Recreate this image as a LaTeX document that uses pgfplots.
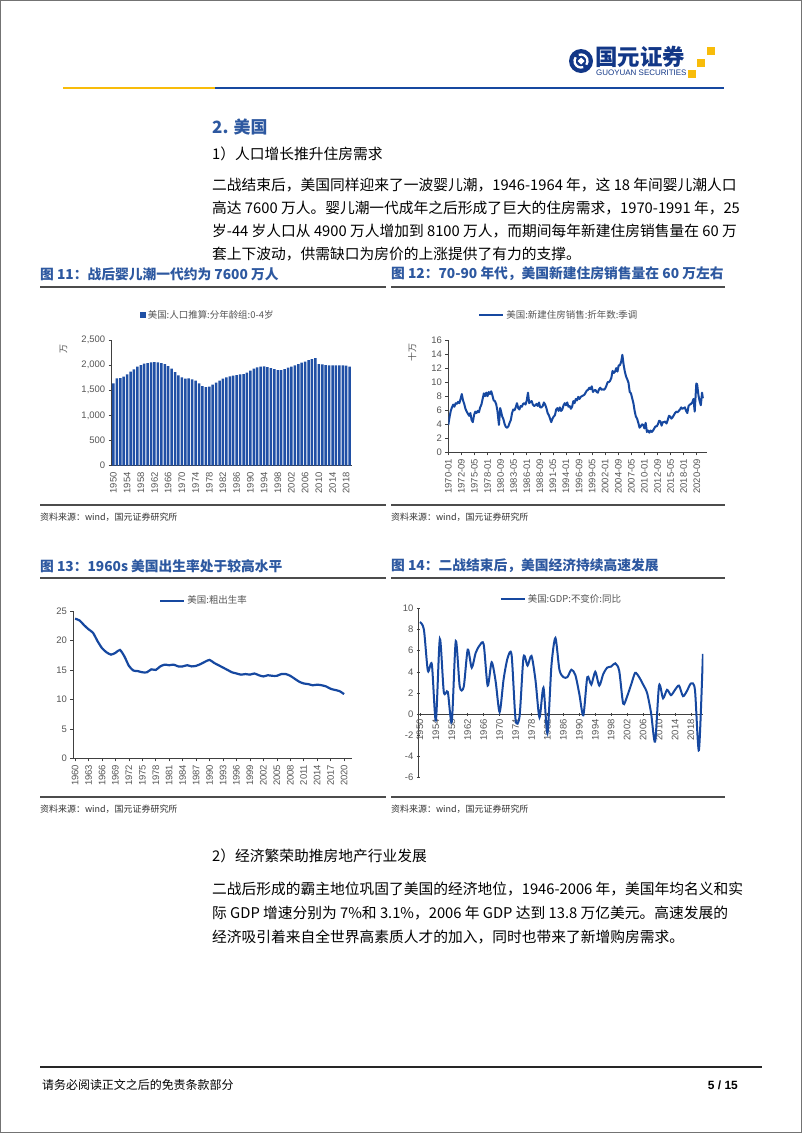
\documentclass[border=0pt]{standalone}
\usepackage{fontspec}
\setmainfont{Liberation Sans}
\newfontfamily\cjk{Noto Sans CJK SC}
\usepackage{pgfplots}
\pgfplotsset{compat=1.18}
\definecolor{gyblue}{RGB}{22,72,160}
\definecolor{titleblue}{RGB}{45,88,160}
\definecolor{logoblue}{RGB}{18,55,135}
\definecolor{gyyellow}{RGB}{248,188,10}
\definecolor{tickgray}{RGB}{85,85,85}
\definecolor{barblue}{RGB}{32,80,165}
\pgfplotsset{
  base/.style={scale only axis, axis x line*=bottom, axis y line*=left,
    tick label style={font=\fontsize{9.5}{11}\selectfont, text=tickgray},
    /pgf/number format/assume math mode=true,
    tick align=outside, major tick length=3bp,
    tick style={black!75, line width=0.6bp},
    axis line style={black!75, line width=0.8bp},
    xticklabel style={rotate=90, anchor=east},
    legend style={draw=none, fill=none, font=\cjk\fontsize{9.5}{11}\selectfont, text=tickgray, inner sep=1bp},
    legend cell align=left,
  }
}
\begin{document}
\begin{tikzpicture}
\begin{scope}[x=1bp,y=-1bp]
\useasboundingbox (0,0) rectangle (802,1133);
\fill[white] (0,0) rectangle (802,1133);
\draw[black!55, line width=1.2] (0.6,0.6) rectangle (801.4,1132.4);
% header
\fill[logoblue] (581,61) circle (12);
\draw[white, line width=2.3] (581,61) ++(70:6.5) arc (70:215:6.5);
\draw[white, line width=2.3] (581,61) ++(250:6.5) arc (250:395:6.5);
\fill[white] (581,57.5) -- (584.5,61) -- (581,64.5) -- (577.5,61) -- cycle;
\node[anchor=west, inner sep=0, text=logoblue] at (595,56.5) {\cjk\bfseries\fontsize{22.5}{24}\selectfont 国元证券};
\node[anchor=west, inner sep=0, text=logoblue] at (596,72.5) {\fontsize{8}{8}\selectfont GUOYUAN SECURITIES};
\fill[gyyellow] (707,47) rectangle (715,55);
\fill[gyyellow] (697,59) rectangle (705,67);
\fill[gyyellow] (688,70) rectangle (696,78);
\draw[gyyellow, line width=3] (63,88) -- (215,88);
\draw[gyblue, line width=3] (215,88) -- (724,88);
% section text
\node[anchor=west, inner sep=0, text=titleblue] at (212,127) {\cjk\bfseries\fontsize{17}{19}\selectfont 2. 美国};
\node[anchor=west, inner sep=0] at (212,154) {\cjk\fontsize{14.8}{16}\selectfont 1）人口增长推升住房需求};
\begin{scope}[every node/.style={anchor=west, inner sep=0, font=\cjk\fontsize{14.8}{16}\selectfont}]
\node at (212,185) {二战结束后，美国同样迎来了一波婴儿潮，1946-1964 年，这 18 年间婴儿潮人口};
\node at (212,208) {高达 7600 万人。婴儿潮一代成年之后形成了巨大的住房需求，1970-1991 年，25};
\node at (212,231) {岁-44 岁人口从 4900 万人增加到 8100 万人，而期间每年新建住房销售量在 60 万};
\node at (212,254) {套上下波动，供需缺口为房价的上涨提供了有力的支撑。};
\node at (212,889) {二战后形成的霸主地位巩固了美国的经济地位，1946-2006 年，美国年均名义和实};
\node at (212,913) {际 GDP 增速分别为 7\%和 3.1\%，2006 年 GDP 达到 13.8 万亿美元。高速发展的};
\node at (212,937) {经济吸引着来自全世界高素质人才的加入，同时也带来了新增购房需求。};
\end{scope}
\node[anchor=west, inner sep=0] at (212,856) {\cjk\fontsize{14.8}{16}\selectfont 2）经济繁荣助推房地产行业发展};
% figure titles
\begin{scope}[every node/.style={anchor=west, inner sep=0, text=titleblue, font=\cjk\bfseries\fontsize{13.8}{15}\selectfont}]
\node at (40,274) {图 11：战后婴儿潮一代约为 7600 万人};
\node at (391,274) {图 12：70-90 年代，美国新建住房销售量在 60 万左右};
\node at (40,566) {图 13：1960s 美国出生率处于较高水平};
\node at (391,566) {图 14：二战结束后，美国经济持续高速发展};
\end{scope}
\draw[black!70, line width=1.2] (40,287) -- (386,287);
\draw[black!70, line width=1.2] (391,287) -- (725,287);
\draw[black!70, line width=1.6] (40,505) -- (386,505);
\draw[black!70, line width=1.6] (391,505) -- (725,505);
\draw[black!70, line width=1.2] (40,578) -- (386,578);
\draw[black!70, line width=1.2] (391,578) -- (725,578);
\draw[black!70, line width=1.6] (40,797) -- (386,797);
\draw[black!70, line width=1.6] (391,797) -- (725,797);
\begin{scope}[every node/.style={anchor=west, inner sep=0, text=black!80, font=\cjk\fontsize{9}{10}\selectfont}]
\node at (40,517) {资料来源：wind，国元证券研究所};
\node at (391,517) {资料来源：wind，国元证券研究所};
\node at (40,809) {资料来源：wind，国元证券研究所};
\node at (391,809) {资料来源：wind，国元证券研究所};
\end{scope}
% footer
\draw[black!85, line width=1.8] (40,1067) -- (762,1067);
\node[anchor=west, inner sep=0] at (42,1085) {\cjk\fontsize{12}{14}\selectfont 请务必阅读正文之后的免责条款部分};
\node[anchor=east, inner sep=0] at (738,1085) {\bfseries\fontsize{12}{14}\selectfont 5 / 15};
\end{scope}

% ---------- Chart 11 ----------
\begin{axis}[base, at={(111.7bp,-465.7bp)}, anchor=south west,
  width=240bp, height=125.7bp,
  xmin=1949.5, xmax=2019.6, ymin=0, ymax=2500,
  ytick={0,500,...,2500},
  yticklabel style={/pgf/number format/1000 sep={,}},
  xtick={1950,1954,...,2018}, xticklabel style={/pgf/number format/1000 sep={}},
  x tick style={draw=none},
  ylabel={\cjk 万}, ylabel style={at={(axis description cs:-0.17,0.93)}, font=\fontsize{9}{10}\selectfont, text=tickgray},
  legend style={at={(0.40,1.20)}, anchor=center},
  legend image code/.code={\fill[barblue] (0bp,-3bp) rectangle (6bp,3bp);},
]
\addplot[ybar, bar width=2.5bp, bar shift=0pt, fill=barblue, draw=none] coordinates {
(1950,1638)(1951,1737)(1952,1740)(1953,1770)(1954,1817)(1955,1870)(1956,1916)(1957,1970)(1958,2003)(1959,2029)
(1960,2042)(1961,2056)(1962,2062)(1963,2056)(1964,2042)(1965,2022)(1966,1983)(1967,1930)(1968,1863)(1969,1797)
(1970,1757)(1971,1731)(1972,1737)(1973,1717)(1974,1691)(1975,1638)(1976,1585)(1977,1565)(1978,1572)(1979,1611)
(1980,1651)(1981,1691)(1982,1731)(1983,1757)(1984,1777)(1985,1790)(1986,1804)(1987,1817)(1988,1824)(1989,1850)
(1990,1890)(1991,1930)(1992,1956)(1993,1970)(1994,1976)(1995,1963)(1996,1943)(1997,1923)(1998,1903)(1999,1903)
(2000,1923)(2001,1950)(2002,1970)(2003,1996)(2004,2022)(2005,2049)(2006,2069)(2007,2102)(2008,2122)(2009,2142)
(2010,2022)(2011,2016)(2012,2003)(2013,1996)(2014,1996)(2015,1996)(2016,1996)(2017,1996)(2018,1990)(2019,1970)};
\addlegendentry{美国:人口推算:分年龄组:0-4岁}
\end{axis}

% ---------- Chart 12 ----------
\begin{axis}[base, at={(448.3bp,-452.3bp)}, anchor=south west,
  width=258.4bp, height=112.3bp,
  xmin=1970, xmax=2022.7, ymin=0, ymax=16, ytick={0,2,...,16},
  xtick={1970,1972.667,1975.333,1978,1980.667,1983.333,1986,1988.667,1991.333,1994,1996.667,1999.333,2002,2004.667,2007.333,2010,2012.667,2015.333,2018,2020.667},
  xticklabels={1970-01,1972-09,1975-05,1978-01,1980-09,1983-05,1986-01,1988-09,1991-05,1994-01,1996-09,1999-05,2002-01,2004-09,2007-05,2010-01,2012-09,2015-05,2018-01,2020-09},
  ylabel={\cjk 十万}, ylabel style={at={(axis description cs:-0.11,0.89)}, font=\fontsize{9}{10}\selectfont, text=tickgray},
  legend style={at={(0.428,1.223)}, anchor=center},
  legend image code/.code={\draw[gyblue, line width=2bp] (0bp,0bp) -- (24bp,0bp);},
]
\addplot[gyblue, line width=2bp, line join=round] coordinates {
(1970.00,3.9)(1970.25,5.0)(1970.50,5.9)(1970.75,6.4)
(1971.00,6.8)(1971.25,6.5)(1971.50,7.0)(1971.75,6.9)
(1972.00,7.2)(1972.25,7.0)(1972.50,7.6)(1972.75,8.3)
(1973.00,7.4)(1973.25,6.9)(1973.50,6.2)(1973.75,5.8)
(1974.00,5.5)(1974.25,5.2)(1974.50,5.6)(1974.75,4.6)
(1975.00,4.3)(1975.25,5.3)(1975.50,5.8)(1975.75,5.6)
(1976.00,5.9)(1976.25,5.7)(1976.50,6.4)(1976.75,6.8)
(1977.00,7.6)(1977.25,8.4)(1977.50,8.0)(1977.75,8.5)
(1978.00,8.0)(1978.25,8.6)(1978.50,8.3)(1978.75,8.7)
(1979.00,8.1)(1979.25,7.4)(1979.50,7.3)(1979.75,6.9)
(1980.00,6.0)(1980.33,3.9)(1980.58,6.3)(1980.83,5.6)
(1981.00,5.1)(1981.25,4.7)(1981.50,4.0)(1981.75,3.6)
(1982.00,3.5)(1982.25,3.7)(1982.50,4.2)(1982.75,4.6)
(1983.00,5.6)(1983.25,6.1)(1983.50,6.0)(1983.75,6.4)
(1984.00,7.0)(1984.25,6.3)(1984.50,6.1)(1984.75,6.6)
(1985.00,6.5)(1985.25,6.9)(1985.50,7.0)(1985.75,6.8)
(1986.00,7.4)(1986.25,8.5)(1986.50,7.0)(1986.75,7.2)
(1987.00,7.3)(1987.25,6.8)(1987.50,6.6)(1987.75,6.7)
(1988.00,6.9)(1988.25,6.6)(1988.50,7.1)(1988.75,6.4)
(1989.00,6.4)(1989.25,6.6)(1989.50,7.1)(1989.75,6.8)
(1990.00,6.3)(1990.25,5.6)(1990.50,5.3)(1990.75,4.8)
(1991.00,4.3)(1991.25,4.8)(1991.50,5.1)(1991.75,5.3)
(1992.00,6.1)(1992.25,6.3)(1992.50,5.9)(1992.75,6.4)
(1993.00,5.9)(1993.25,6.1)(1993.50,6.7)(1993.75,7.0)
(1994.00,6.7)(1994.25,7.1)(1994.50,6.5)(1994.75,6.6)
(1995.00,6.2)(1995.25,6.5)(1995.50,7.3)(1995.75,7.0)
(1996.00,7.6)(1996.25,7.4)(1996.50,7.9)(1996.75,7.6)
(1997.00,7.9)(1997.25,8.0)(1997.50,8.1)(1997.75,8.2)
(1998.00,8.5)(1998.25,8.8)(1998.50,8.9)(1998.75,9.2)
(1999.00,9.0)(1999.25,9.4)(1999.50,8.6)(1999.75,8.8)
(2000.00,8.9)(2000.25,8.6)(2000.50,8.5)(2000.75,9.0)
(2001.00,9.2)(2001.25,8.9)(2001.50,9.0)(2001.75,8.9)
(2002.00,9.1)(2002.25,9.5)(2002.50,10.0)(2002.75,10.0)
(2003.00,10.2)(2003.25,10.6)(2003.50,11.6)(2003.75,11.3)
(2004.00,11.5)(2004.25,12.0)(2004.50,11.5)(2004.75,12.4)
(2005.00,12.4)(2005.25,12.9)(2005.50,13.9)(2005.75,12.5)
(2006.00,11.5)(2006.25,10.8)(2006.50,10.4)(2006.75,9.9)
(2007.00,8.6)(2007.25,8.4)(2007.50,7.7)(2007.75,7.0)
(2008.00,5.9)(2008.25,5.1)(2008.50,4.8)(2008.75,4.2)
(2009.00,3.5)(2009.25,3.7)(2009.50,4.0)(2009.75,3.9)
(2010.00,3.4)(2010.25,4.2)(2010.50,2.9)(2010.75,3.1)
(2011.00,2.8)(2011.25,3.1)(2011.50,2.9)(2011.75,3.1)
(2012.00,3.4)(2012.25,3.7)(2012.50,3.7)(2012.75,4.0)
(2013.00,4.5)(2013.25,4.4)(2013.50,3.8)(2013.75,4.3)
(2014.00,4.3)(2014.25,4.4)(2014.50,4.1)(2014.75,4.6)
(2015.00,5.2)(2015.25,5.1)(2015.50,4.8)(2015.75,5.0)
(2016.00,5.3)(2016.25,5.6)(2016.50,5.8)(2016.75,5.7)
(2017.00,5.9)(2017.25,6.1)(2017.50,6.4)(2017.75,6.2)
(2018.00,6.3)(2018.25,6.4)(2018.50,5.9)(2018.75,5.6)
(2019.00,6.6)(2019.25,6.8)(2019.50,6.9)(2019.75,7.1)
(2020.00,7.6)(2020.25,5.8)(2020.58,9.8)(2020.75,9.7)
(2021.00,8.2)(2021.25,7.3)(2021.50,6.7)(2021.75,8.5)(2021.92,7.7)};
\addlegendentry{美国:新建住房销售:折年数:季调}
\end{axis}

% ---------- Chart 13 ----------
\begin{axis}[base, at={(73.3bp,-758.3bp)}, anchor=south west,
  width=278.4bp, height=147.3bp,
  xmin=1959.6, xmax=2021.7, ymin=0, ymax=25, ytick={0,5,...,25},
  xtick={1960,1963,...,2020}, xticklabel style={/pgf/number format/1000 sep={}},
  legend style={at={(0.47,1.07)}, anchor=center},
  legend image code/.code={\draw[gyblue, line width=2bp] (0bp,0bp) -- (24bp,0bp);},
]
\addplot[gyblue, line width=2.2bp, smooth, tension=0.4] coordinates {
(1960,23.7)(1961,23.4)(1962,22.6)(1963,21.9)(1964,21.3)(1965,19.9)(1966,18.7)(1967,18.0)(1968,17.6)(1969,17.9)
(1970,18.4)(1971,17.3)(1972,15.7)(1973,14.9)(1974,14.8)(1975,14.6)(1976,14.6)(1977,15.1)(1978,15.0)(1979,15.6)
(1980,15.9)(1981,15.8)(1982,15.9)(1983,15.6)(1984,15.6)(1985,15.8)(1986,15.6)(1987,15.7)(1988,16.0)(1989,16.4)
(1990,16.7)(1991,16.2)(1992,15.8)(1993,15.4)(1994,15.0)(1995,14.6)(1996,14.4)(1997,14.2)(1998,14.3)(1999,14.2)
(2000,14.4)(2001,14.1)(2002,13.9)(2003,14.1)(2004,14.0)(2005,14.0)(2006,14.3)(2007,14.3)(2008,14.0)(2009,13.5)
(2010,13.0)(2011,12.7)(2012,12.6)(2013,12.4)(2014,12.5)(2015,12.4)(2016,12.2)(2017,11.8)(2018,11.6)(2019,11.4)(2020,10.9)};
\addlegendentry{美国:粗出生率}
\end{axis}

% ---------- Chart 14 ----------
\begin{axis}[base, at={(418.3bp,-777.7bp)}, anchor=south west,
  width=285bp, height=169.4bp,
  axis x line=middle, axis y line=left,
  x axis line style={-}, y axis line style={-},
  xmin=1949.6, xmax=2021.1, ymin=-6, ymax=10, ytick={-6,-4,...,10},
  xtick={1950,1954,...,2018}, xticklabel style={/pgf/number format/1000 sep={}},
  x tick style={black!75}, xtick align=center,
  legend style={at={(0.502,1.055)}, anchor=center},
  legend image code/.code={\draw[gyblue, line width=2bp] (0bp,0bp) -- (24bp,0bp);},
]
\addplot[gyblue, line width=2bp, smooth, tension=0.45] coordinates {
(1950,8.7)(1951,8.0)(1952,4.1)(1953,4.7)(1954,-0.6)(1955,7.1)(1956,2.1)(1957,2.1)(1958,-0.7)(1959,6.9)
(1960,2.6)(1961,2.6)(1962,6.1)(1963,4.4)(1964,5.8)(1965,6.5)(1966,6.6)(1967,2.7)(1968,4.9)(1969,3.1)
(1970,0.2)(1971,3.3)(1972,5.3)(1973,5.6)(1974,-0.5)(1975,-0.2)(1976,5.4)(1977,4.6)(1978,5.5)(1979,3.2)
(1980,-0.3)(1981,2.5)(1982,-1.8)(1983,4.6)(1984,7.2)(1985,4.2)(1986,3.5)(1987,3.5)(1988,4.2)(1989,3.7)
(1990,1.9)(1991,-0.1)(1992,3.5)(1993,2.8)(1994,4.0)(1995,2.7)(1996,3.8)(1997,4.4)(1998,4.5)(1999,4.8)
(2000,4.1)(2001,1.0)(2002,1.7)(2003,2.8)(2004,3.9)(2005,3.5)(2006,2.8)(2007,2.0)(2008,0.1)(2009,-2.6)
(2010,2.7)(2011,1.5)(2012,2.3)(2013,1.8)(2014,2.3)(2015,2.7)(2016,1.7)(2017,2.2)(2018,2.9)(2019,2.3)
(2020,-3.4)(2021,5.7)};
\addlegendentry{美国:GDP:不变价:同比}
\end{axis}
\end{tikzpicture}
\end{document}
